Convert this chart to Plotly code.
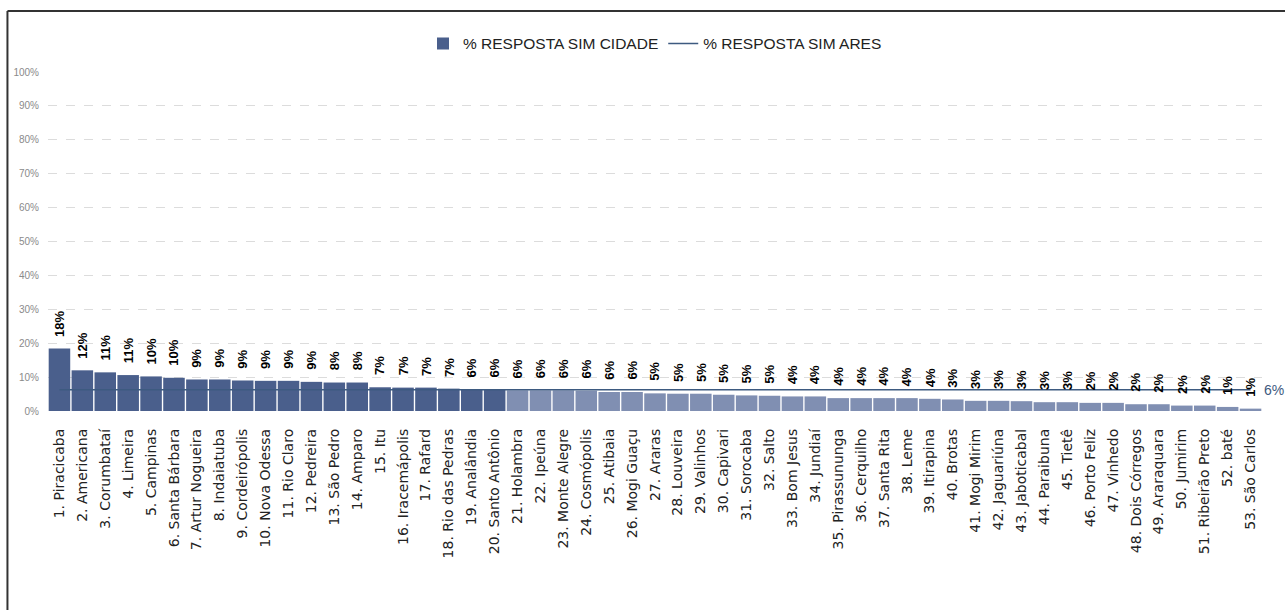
import plotly.graph_objects as go

cities = ["1. Piracicaba", "2. Americana", "3. Corumbataí", "4. Limeira", "5. Campinas",
          "6. Santa Bárbara", "7. Artur Nogueira", "8. Indaiatuba", "9. Cordeirópolis",
          "10. Nova Odessa", "11. Rio Claro", "12. Pedreira", "13. São Pedro", "14. Amparo",
          "15. Itu", "16. Iracemápolis", "17. Rafard", "18. Rio das Pedras", "19. Analândia",
          "20. Santo Antônio", "21. Holambra", "22. Ipeúna", "23. Monte Alegre",
          "24. Cosmópolis", "25. Atibaia", "26. Mogi Guaçu", "27. Araras", "28. Louveira",
          "29. Valinhos", "30. Capivari", "31. Sorocaba", "32. Salto", "33. Bom Jesus",
          "34. Jundiaí", "35. Pirassununga", "36. Cerquilho", "37. Santa Rita", "38. Leme",
          "39. Itirapina", "40. Brotas", "41. Mogi Mirim", "42. Jaguariúna", "43. Jaboticabal",
          "44. Paraibuna", "45. Tietê", "46. Porto Feliz", "47. Vinhedo", "48. Dois Córregos",
          "49. Araraquara", "50. Jumirim", "51. Ribeirão Preto", "52. baté", "53. São Carlos"]

sim_cidade = [18.4, 12.0, 11.4, 10.6, 10.2, 9.8, 9.3, 9.3, 9.0, 8.9,
              8.9, 8.6, 8.4, 8.4, 7.0, 6.9, 6.9, 6.6, 6.4, 6.4,
              6.1, 6.1, 6.1, 6.0, 5.6, 5.6, 5.2, 5.1, 5.1, 4.8,
              4.6, 4.5, 4.3, 4.3, 3.8, 3.8, 3.8, 3.8, 3.6, 3.4,
              3.0, 3.0, 2.9, 2.6, 2.6, 2.4, 2.4, 2.0, 2.0, 1.6,
              1.6, 1.2, 0.7]

ares_value = 6.3
sim_ares = [ares_value] * len(cities)

y_ticks = [0, 10, 20, 30, 40, 50, 60, 70, 80, 90, 100]
y_tick_labels = [f"{v}%" for v in y_ticks]

dark = "#4a5f8c"
light = "#808fb2"
bar_colors = [dark if i < 20 else light for i in range(len(cities))]

fig = go.Figure()
fig.add_trace(go.Bar(
    x=cities, y=sim_cidade, name="% RESPOSTA SIM CIDADE",
    marker=dict(color=bar_colors, line=dict(width=0)),
    hoverinfo="x+y",
))
fig.add_trace(go.Scatter(
    x=cities, y=sim_ares, name="% RESPOSTA SIM ARES", mode="lines",
    line=dict(color="#3d5a80", width=1.5),
))

# data labels on bars
for c, v in zip(cities, sim_cidade):
    fig.add_annotation(x=c, y=v, text=f"<b>{int(v + 0.5)}%</b>", showarrow=False,
                       textangle=-90, yanchor="bottom", yshift=10,
                       font=dict(family="Liberation Sans", size=13, color="#000000"))
# label for ARES line
fig.add_annotation(x=cities[-1], y=ares_value, text=f"{int(ares_value + 0.5)}%", showarrow=False,
                   xanchor="left", xshift=11, yshift=0,
                   font=dict(family="Liberation Sans", size=14, color="#3d5a80"))

# frame lines (top and left), like the reference border
fig.add_shape(type="line", xref="paper", yref="paper", x0=-0.0334, x1=1.02, y0=1.180, y1=1.180,
              line=dict(color="#333333", width=2))
fig.add_shape(type="line", xref="paper", yref="paper", x0=-0.0334, x1=-0.0334, y0=1.180, y1=-0.6,
              line=dict(color="#333333", width=2))

fig.update_layout(
    width=1285, height=610,
    margin=dict(l=48, r=23, t=72, b=199),
    plot_bgcolor="white", paper_bgcolor="white",
    bargap=0.06,
    showlegend=True,
    legend=dict(orientation="h", x=0.5, xanchor="center", y=1.083, yanchor="middle",
                font=dict(family="Liberation Sans", size=15.5, color="#222222"),
                itemwidth=30, tracegroupgap=0),
    xaxis=dict(type="category", tickangle=-90, showgrid=False, showline=False,
               ticks="", ticklabelstandoff=14,
               tickfont=dict(family="DejaVu Sans", size=14, color="#222222"),
               range=[-0.5, len(cities) - 0.5]),
    yaxis=dict(range=[0, 100], tickvals=y_ticks, ticktext=y_tick_labels,
               showgrid=True, gridcolor="#dcdcdc", griddash="dash", gridwidth=1,
               zeroline=False, showline=False, ticks="", ticklabelstandoff=8,
               tickfont=dict(family="Liberation Sans", size=10, color="#8a8a8a")),
)

fig.write_html("out.html", config={"displayModeBar": False},
               post_script="document.body.style.margin='0';")
